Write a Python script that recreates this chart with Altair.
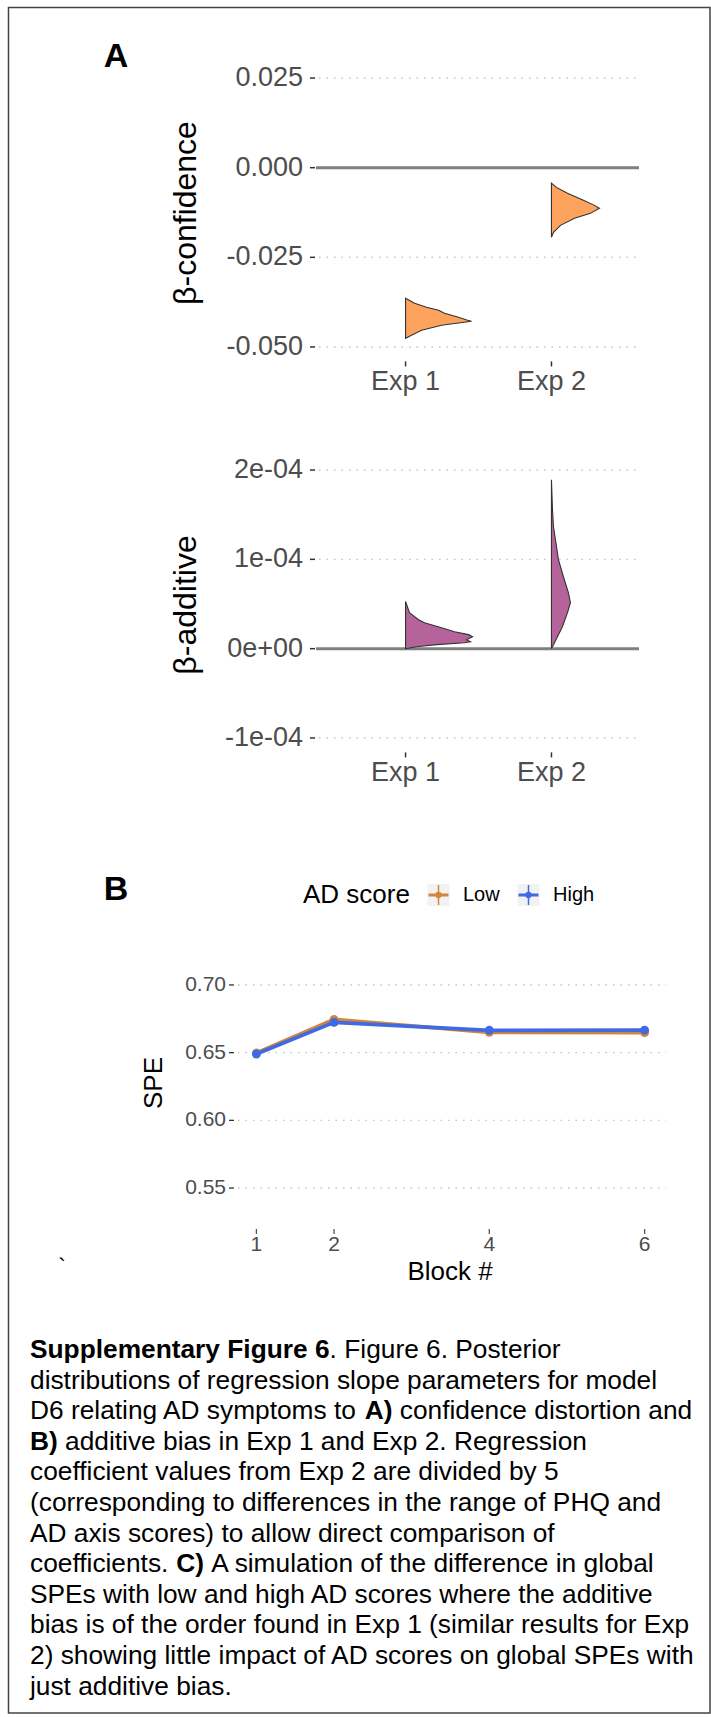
import altair as alt
import pandas as pd

# ---------------- data ----------------
experiments = ["Exp 1", "Exp 2"]
exp_pos = [1, 2]

conf_ticks = [0.025, 0.0, -0.025, -0.05]
conf_tick_labels = ["0.025", "0.000", "-0.025", "-0.050"]
add_ticks = [2e-4, 1e-4, 0.0, -1e-4]
add_tick_labels = ["2e-04", "1e-04", "0e+00", "-1e-04"]

# half-violin outlines: posterior value and half-width (fraction of category step)
conf_exp1_value = [-0.03643, -0.03782, -0.03894, -0.03977, -0.04061, -0.04172, -0.04256,
                   -0.04284, -0.04340, -0.04395, -0.04535, -0.04674, -0.04758]
conf_exp1_width = [0, 0.062, 0.144, 0.226, 0.267, 0.363, 0.425, 0.452, 0.349, 0.247, 0.110, 0.041, 0]
conf_exp2_value = [-0.00429, -0.00549, -0.00716, -0.00911, -0.01051, -0.01134, -0.01274,
                   -0.01413, -0.01608, -0.01803, -0.01943]
conf_exp2_width = [0, 0.034, 0.110, 0.219, 0.295, 0.329, 0.267, 0.158, 0.062, 0.014, 0]
add_exp1_value = [5.29e-5, 4.03e-5, 3.24e-5, 2.91e-5, 2.35e-5, 1.90e-5, 1.57e-5, 1.34e-5,
                  1.01e-5, 0.78e-5, 0.67e-5, 0.45e-5, 0.22e-5, 0.0]
add_exp1_width = [0, 0.027, 0.089, 0.130, 0.247, 0.336, 0.432, 0.459, 0.418, 0.445, 0.404, 0.212, 0.075, 0]
add_exp2_value = [1.89e-4, 1.555e-4, 1.365e-4, 0.996e-4, 0.805e-4, 0.626e-4, 0.515e-4,
                  0.403e-4, 0.246e-4, 0.134e-4, 0.045e-4, 0.001e-4]
add_exp2_width = [0, 0.007, 0.014, 0.048, 0.082, 0.116, 0.130, 0.110, 0.075, 0.041, 0.014, 0]

blocks = [1, 2, 4, 6]
block_labels = ["1", "2", "4", "6"]
spe_low = [0.6497, 0.6745, 0.6650, 0.6648]
spe_high = [0.6490, 0.6724, 0.6665, 0.6666]
spe_ticks = [0.55, 0.60, 0.65, 0.70]
spe_tick_labels = ["0.55", "0.60", "0.65", "0.70"]
groups = ["Low", "High"]
group_colors = ["#D0873D", "#4169E1"]

caption_lines = [
    [("Supplementary Figure 6", True), (". Figure 6. Posterior", False)],
    [("distributions of regression slope parameters for model", False)],
    [("D6 relating AD symptoms to ", False), ("A)", True), (" confidence distortion and", False)],
    [("B)", True), (" additive bias in Exp 1 and Exp 2. Regression", False)],
    [("coefficient values from Exp 2 are divided by 5", False)],
    [("(corresponding to differences in the range of PHQ and", False)],
    [("AD axis scores) to allow direct comparison of", False)],
    [("coefficients. ", False), ("C)", True), (" A simulation of the difference in global", False)],
    [("SPEs with low and high AD scores where the additive", False)],
    [("bias is of the order found in Exp 1 (similar results for Exp", False)],
    [("2) showing little impact of AD scores on global SPEs with", False)],
    [("just additive bias.", False)],
]

# ---------------- layout / style ----------------
FONT = "Liberation Sans"
W, H = 711, 1717
A_X0, A_X1 = 318, 639
A1_Y0, A1_Y1 = 64.6, 360.4
A2_Y0, A2_Y1 = 456.6, 751.4
B_X0, B_X1 = 237, 664
B_Y0, B_Y1 = 945, 1228
GRID = dict(color="#C4C4C4", strokeWidth=1.4, strokeDash=[1.5, 6])
TICK_COL = "#333333"
LAB_COL = "#4D4D4D"

REG = {' ': 278, '!': 278, '#': 556, '(': 333, ')': 333, ',': 278, '-': 333, '.': 278, ':': 278}
REG.update({d: 556 for d in "0123456789"})
REG.update(dict(zip("ABCDEFGHIJKLMNOPQRSTUVWXYZ",
                    [667, 667, 722, 722, 667, 611, 778, 722, 278, 500, 667, 556, 833, 722, 778, 667, 778,
                     722, 667, 611, 722, 667, 944, 667, 667, 611])))
REG.update(dict(zip("abcdefghijklmnopqrstuvwxyz",
                    [556, 556, 500, 556, 556, 278, 556, 556, 222, 222, 500, 222, 833, 556, 556, 556, 556,
                     333, 500, 278, 556, 500, 722, 500, 500, 500])))
BOLD = {' ': 278, '(': 333, ')': 333, '.': 278}
BOLD.update({d: 556 for d in "0123456789"})
BOLD.update(dict(zip("ABCDEFGS", [722, 722, 722, 722, 667, 611, 778, 667])))
BOLD.update(dict(zip("abcdefghijklmnopqrstuvwxyz",
                     [556, 611, 556, 611, 556, 333, 611, 611, 278, 278, 556, 278, 889, 611, 611, 611, 611,
                      389, 556, 333, 611, 556, 778, 556, 556, 500])))


def twidth(s, bold, size):
    tab = BOLD if bold else REG
    return sum(tab.get(c, 556) for c in s) * size / 1000.0


def one():
    return pd.DataFrame({"k": [0]})


def vtext(t, x, y, size, color="black", bold=False, angle=0, align="center"):
    kw = dict(font=FONT, fontSize=size, color=color, align=align, baseline="middle",
              fontWeight="bold" if bold else "normal")
    if angle:
        kw["angle"] = angle
    return alt.Chart(pd.DataFrame({"t": [t]})).mark_text(**kw).encode(
        text="t:N", x=alt.value(x), y=alt.value(y))


def violin_frame(v1, w1, v2, w2):
    rows = []
    for pos, vals, ws in ((exp_pos[0], v1, w1), (exp_pos[1], v2, w2)):
        for v, w in zip(vals, ws):
            rows.append({"exp": pos, "value": v, "xw": pos + w})
    return pd.DataFrame(rows)


xA = alt.Scale(domain=[0.4, 2.6], range=[A_X0, A_X1], nice=False, zero=False)


def panel_A(ticks, labels, ydom, y0, y1, vdf, fill, title, title_y):
    ys = alt.Scale(domain=ydom, range=[y1, y0], nice=False, zero=False)
    tdf = pd.DataFrame({"v": ticks, "lab": labels})
    Y = alt.Y("v:Q", scale=ys, axis=None)
    grid = alt.Chart(tdf).mark_rule(**GRID).encode(y=Y, x=alt.value(A_X0 + 1), x2=alt.value(A_X1))
    zero = alt.Chart(pd.DataFrame({"v": [0.0]})).mark_rule(color="#7F7F7F", strokeWidth=3).encode(
        y=Y, x=alt.value(A_X0 - 2), x2=alt.value(A_X1))
    tks = alt.Chart(tdf).mark_rule(color=TICK_COL, strokeWidth=1.5).encode(
        y=Y, x=alt.value(A_X0 - 8), x2=alt.value(A_X0 - 3))
    tls = alt.Chart(tdf).mark_text(align="right", baseline="middle", font=FONT, fontSize=27,
                                   color=LAB_COL).encode(y=Y, x=alt.value(A_X0 - 15), text="lab:N")
    edf = pd.DataFrame({"pos": exp_pos, "lab": experiments})
    X = alt.X("pos:Q", scale=xA, axis=None)
    xt = alt.Chart(edf).mark_rule(color=TICK_COL, strokeWidth=1.5).encode(
        x=X, y=alt.value(y1 + 1), y2=alt.value(y1 + 6))
    xl = alt.Chart(edf).mark_text(baseline="middle", font=FONT, fontSize=27, color=LAB_COL).encode(
        x=X, y=alt.value(y1 + 22), text="lab:N")
    vio = alt.Chart(vdf).mark_area(orient="horizontal", fill=fill, fillOpacity=1, stroke="#333333",
                                   strokeWidth=1.1).encode(
        y=alt.Y("value:Q", scale=ys, axis=None),
        x=alt.X("xw:Q", scale=xA, axis=None, stack=None),
        x2=alt.X2("exp:Q"),
        detail="exp:N")
    ttl = vtext(title, 186, title_y, 32, angle=270)
    return alt.layer(grid, zero, tks, tls, xt, xl, vio, ttl)


panelA1 = panel_A(conf_ticks, conf_tick_labels, [-0.05375, 0.02875], A1_Y0, A1_Y1,
                  violin_frame(conf_exp1_value, conf_exp1_width, conf_exp2_value, conf_exp2_width),
                  "#FDA35E", "β-confidence", 213)
panelA2 = panel_A(add_ticks, add_tick_labels, [-1.15e-4, 2.15e-4], A2_Y0, A2_Y1,
                  violin_frame(add_exp1_value, add_exp1_width, add_exp2_value, add_exp2_width),
                  "#B5639A", "β-additive", 605)

# ---------------- panel B ----------------
xB = alt.Scale(domain=[0.75, 6.25], range=[B_X0, B_X1], nice=False, zero=False)
yB = alt.Scale(domain=[0.5205, 0.7295], range=[B_Y1, B_Y0], nice=False, zero=False)
btdf = pd.DataFrame({"v": spe_ticks, "lab": spe_tick_labels})
YB = alt.Y("v:Q", scale=yB, axis=None)
b_grid = alt.Chart(btdf).mark_rule(**GRID).encode(y=YB, x=alt.value(B_X0 + 1), x2=alt.value(B_X1 + 2))
b_tks = alt.Chart(btdf).mark_rule(color=TICK_COL, strokeWidth=1.3).encode(
    y=YB, x=alt.value(B_X0 - 8), x2=alt.value(B_X0 - 3))
b_tls = alt.Chart(btdf).mark_text(align="right", baseline="middle", font=FONT, fontSize=21,
                                  color=LAB_COL).encode(y=YB, x=alt.value(B_X0 - 11), text="lab:N")
bxdf = pd.DataFrame({"b": blocks, "lab": block_labels})
XB = alt.X("b:Q", scale=xB, axis=None)
b_xt = alt.Chart(bxdf).mark_rule(color="#555555", strokeWidth=1.3).encode(
    x=XB, y=alt.value(B_Y1 + 1), y2=alt.value(B_Y1 + 6))
b_xl = alt.Chart(bxdf).mark_text(baseline="middle", font=FONT, fontSize=21, color=LAB_COL).encode(
    x=XB, y=alt.value(B_Y1 + 17), text="lab:N")

series_layers = []
for g, vals in zip(groups, [spe_low, spe_high]):
    df = pd.DataFrame({"block": blocks, "spe": vals, "group": [g] * len(blocks)})
    col = alt.Color("group:N", scale=alt.Scale(domain=groups, range=group_colors), legend=None)
    enc = dict(x=alt.X("block:Q", scale=xB, axis=None), y=alt.Y("spe:Q", scale=yB, axis=None), color=col)
    series_layers.append(alt.Chart(df).mark_line(strokeWidth=3.8).encode(**enc))
    series_layers.append(alt.Chart(df).mark_point(filled=True, size=80, opacity=1).encode(**enc))

legend_layers = [vtext("AD score", 303, 895, 26, align="left")]
for g, c, kx, lx in zip(groups, group_colors, [438.5, 528.5], [463, 553]):
    legend_layers += [
        alt.Chart(one()).mark_rect(fill="#F2F2F2").encode(
            x=alt.value(kx - 11), x2=alt.value(kx + 11), y=alt.value(884), y2=alt.value(906)),
        alt.Chart(one()).mark_rule(color=c, strokeWidth=3).encode(
            x=alt.value(kx - 10), x2=alt.value(kx + 10), y=alt.value(895)),
        alt.Chart(one()).mark_rule(color=c, strokeWidth=1.5).encode(
            x=alt.value(kx), y=alt.value(885), y2=alt.value(905)),
        alt.Chart(one()).mark_point(filled=True, color=c, size=40, opacity=1).encode(
            x=alt.value(kx), y=alt.value(895)),
        vtext(g, lx, 895, 20, align="left"),
    ]

panelB = alt.layer(b_grid, b_tks, b_tls, b_xt, b_xl, *series_layers,
                   vtext("Block #", 450, 1272, 26), vtext("SPE", 154, 1083, 26, angle=270),
                   *legend_layers)

# ---------------- caption & decorations ----------------
CAP_SIZE = 26.3
rows = []
for i, segs in enumerate(caption_lines):
    cursor = 30.0
    y = 1350 + 30.6 * i
    for s, b in segs:
        lead = len(s) - len(s.lstrip(" "))
        txt = s.strip(" ")
        rows.append({"t": txt, "x": cursor + twidth(" " * lead, b, CAP_SIZE), "y": y, "bold": b})
        cursor += twidth(s, b, CAP_SIZE)
cap_df = pd.DataFrame(rows)
cap_layers = []
for b in (False, True):
    cap_layers.append(
        alt.Chart(cap_df[cap_df["bold"] == b]).mark_text(
            align="left", baseline="middle", font=FONT, fontSize=CAP_SIZE, color="black",
            fontWeight="bold" if b else "normal").encode(
            x=alt.X("x:Q", scale=None, axis=None), y=alt.Y("y:Q", scale=None, axis=None), text="t:N"))

border = alt.Chart(one()).mark_rect(fill="white", fillOpacity=0, stroke="#444444", strokeWidth=1.5).encode(
    x=alt.value(8.5), x2=alt.value(710), y=alt.value(7.5), y2=alt.value(1713))

decor = alt.layer(border, vtext("A", 116, 57, 34, bold=True), vtext("B", 116, 890, 34, bold=True),
                  vtext("`", 62, 1268, 24), *cap_layers)

chart = alt.layer(decor, panelA1, panelA2, panelB).resolve_scale(
    x="independent", y="independent", color="independent"
).properties(
    width=W, height=H, padding=0, background="white",
    autosize=alt.AutoSizeParams(type="none")
).configure_view(strokeWidth=0)

chart.save("out.html", embed_options={"renderer": "svg", "actions": False})
